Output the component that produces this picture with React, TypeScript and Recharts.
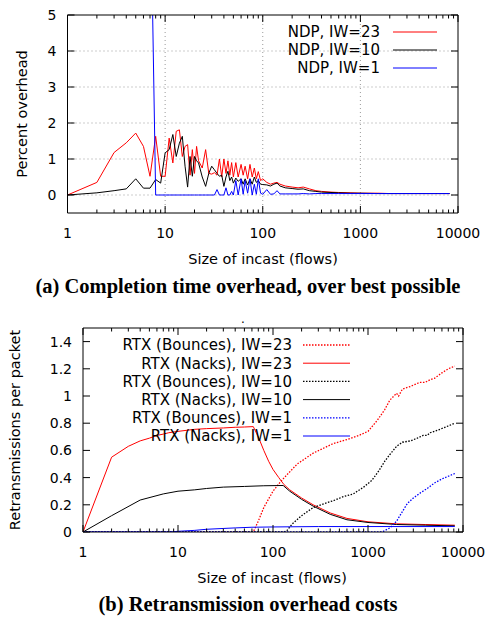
import { LineChart, Line, XAxis, YAxis, ReferenceLine } from 'recharts';

const FONT = '"DejaVu Sans", sans-serif';
const SERIF = '"Liberation Serif", "Times New Roman", serif';

// ---- (a) completion time overhead ----
const incastSizes = [
  1, 2, 3, 4, 5, 6, 7, 8, 9, 10, 11, 12, 13, 14, 15, 16, 17, 18, 19, 20, 21, 22,
  24, 26, 28, 30, 32, 34, 36, 38, 40, 42, 44, 46, 48, 50,
  53, 56, 60, 63, 66, 70, 74, 78, 82, 86, 90, 95, 100,
  110, 120, 130, 140, 150, 170, 200, 230, 260, 300, 350, 400, 500, 600, 800, 1000, 1500, 2000, 3000, 4000, 6000, 8192,
];
const overheadIW23 = [
  0, 0.35, 1.18, 1.45, 1.72, 1.35, 0.52, 1.63, 0.52, 0.52, 1.58, 0.89, 1.77, 1.81, 1.07, 1.35, 1.4, 0.55, 1.26, 0.6, 1.35, 0.95,
  0.75, 1.26, 0.6, 0.58, 0.62, 0.55, 1.0, 0.5, 1.0, 0.6, 0.95, 0.55, 0.9, 0.5,
  0.9, 0.5, 0.85, 0.55, 0.8, 0.45, 0.85, 0.5, 0.75, 0.45, 0.65, 0.4, 0.45,
  0.35, 0.3, 0.33, 0.35, 0.3, 0.25, 0.22, 0.2, 0.22, 0.17, 0.12, 0.1, 0.08, 0.07, 0.06, 0.05, 0.05, 0.04, 0.04, 0.04, 0.04, 0.04,
];
const overheadIW10 = [
  0, 0.06, 0.12, 0.17, 0.45, 0.19, 0.19, 0.43, 0.33, 1.17, 1.26, 1.68, 1.07, 1.44, 1.63, 0.8, 0.22, 1.07, 0.52, 1.07, 0.95, 0.89,
  0.5, 0.24, 0.6, 0.8, 0.7, 0.6, 0.52, 0.55, 0.24, 0.5, 0.66, 0.4, 0.5, 0.33,
  0.47, 0.38, 0.45, 0.3, 0.45, 0.28, 0.45, 0.3, 0.5, 0.35, 0.4, 0.3, 0.29,
  0.28, 0.25, 0.3, 0.33, 0.25, 0.2, 0.18, 0.16, 0.17, 0.12, 0.1, 0.08, 0.07, 0.06, 0.05, 0.05, 0.04, 0.04, 0.04, 0.04, 0.04, 0.04,
];
const overheadIW1 = [
  20, 18, 16, 14, 12, 10.5, 9.4, 0, 0, 0, 0, 0, 0, 0, 0, 0, 0, 0, 0, 0, 0, 0,
  0, 0, 0, 0, 0, 0.15, 0, 0, 0, 0.2, 0, 0, 0.1, 0,
  0.4, 0, 0.45, 0.02, 0.4, 0.05, 0.45, 0, 0.3, 0.02, 0.45, 0.05, 0.02,
  0.15, 0.02, 0.03, 0.12, 0.03, 0.03, 0.03, 0.03, 0.04, 0.03, 0.04, 0.04, 0.04, 0.04, 0.04, 0.04, 0.04, 0.04, 0.04, 0.04, 0.04, 0.04,
];

// ---- (b) retransmissions per packet ----
const bounces23X = [1, 60, 63, 70, 80, 100, 120, 140, 180, 265, 430, 600, 800, 1000, 1250, 1500, 1700, 2000, 2100, 2300, 2500, 2800, 3000, 3500, 4000, 4500, 5000, 6000, 7000, 8192];
const bounces23Y = [0, 0, 0.01, 0.08, 0.18, 0.3, 0.37, 0.42, 0.5, 0.58, 0.65, 0.68, 0.71, 0.74, 0.82, 0.9, 0.97, 1.02, 1.0, 1.05, 1.06, 1.07, 1.08, 1.1, 1.1, 1.12, 1.13, 1.17, 1.2, 1.22];
const nacks23X = [1, 2, 3, 4, 5, 6, 7, 8, 10, 15, 20, 30, 40, 50, 62, 70, 80, 90, 100, 115, 130, 150, 200, 265, 400, 600, 1000, 2000, 4000, 8192];
const nacks23Y = [0, 0.55, 0.63, 0.67, 0.69, 0.71, 0.72, 0.73, 0.74, 0.755, 0.76, 0.765, 0.77, 0.772, 0.775, 0.7, 0.6, 0.52, 0.46, 0.4, 0.35, 0.31, 0.25, 0.2, 0.14, 0.1, 0.075, 0.06, 0.055, 0.05];
const bounces10X = [1, 130, 140, 160, 200, 265, 350, 430, 550, 700, 900, 1100, 1300, 1500, 1700, 2000, 2300, 2800, 3300, 3800, 4200, 4500, 5500, 7000, 8192];
const bounces10Y = [0, 0, 0.01, 0.06, 0.12, 0.18, 0.21, 0.23, 0.26, 0.28, 0.33, 0.38, 0.45, 0.52, 0.57, 0.63, 0.66, 0.67, 0.69, 0.71, 0.71, 0.73, 0.75, 0.78, 0.8];
const nacks10X = [1, 2, 4, 7, 10, 15, 20, 30, 50, 80, 128, 150, 200, 265, 400, 600, 1000, 2000, 4000, 8192];
const nacks10Y = [0, 0.12, 0.235, 0.28, 0.3, 0.31, 0.32, 0.33, 0.335, 0.34, 0.342, 0.3, 0.24, 0.19, 0.13, 0.09, 0.07, 0.055, 0.05, 0.045];
const bounces1X = [1, 1300, 1450, 1700, 2000, 2300, 2600, 3000, 3600, 4200, 5000, 6000, 7000, 8192];
const bounces1Y = [0, 0, 0.005, 0.03, 0.08, 0.15, 0.21, 0.25, 0.29, 0.32, 0.36, 0.39, 0.41, 0.43];
const nacks1X = [1, 8, 10, 15, 20, 30, 40, 60, 100, 300, 1000, 8192];
const nacks1Y = [0, 0, 0.005, 0.012, 0.02, 0.026, 0.03, 0.035, 0.037, 0.04, 0.04, 0.04];

// ---- ticks ----
const xMajorTicks = [1, 10, 100, 1000, 10000];
const xMinorTicks = [1, 10, 100, 1000].flatMap((d) => [2, 3, 4, 5, 6, 7, 8, 9].map((m) => m * d));
const xTicks = [...xMajorTicks, ...xMinorTicks].sort((a, b) => a - b);
const overheadTicks = [0, 1, 2, 3, 4, 5];
const rtxTicks = [0, 0.2, 0.4, 0.6, 0.8, 1, 1.2, 1.4];

const topData = incastSizes.map((x, i) => ({ x, iw23: overheadIW23[i], iw10: overheadIW10[i], iw1: overheadIW1[i] }));
const toPoints = (xs: number[], ys: number[]) => xs.map((x, i) => ({ x, y: ys[i] }));

const rtxSeries = [
  { name: 'RTX (Bounces), IW=23', color: '#ff0000', dotted: true, data: toPoints(bounces23X, bounces23Y) },
  { name: 'RTX (Nacks), IW=23', color: '#ff0000', dotted: false, data: toPoints(nacks23X, nacks23Y) },
  { name: 'RTX (Bounces), IW=10', color: '#000000', dotted: true, data: toPoints(bounces10X, bounces10Y) },
  { name: 'RTX (Nacks), IW=10', color: '#000000', dotted: false, data: toPoints(nacks10X, nacks10Y) },
  { name: 'RTX (Bounces), IW=1', color: '#0000ff', dotted: true, data: toPoints(bounces1X, bounces1Y) },
  { name: 'RTX (Nacks), IW=1', color: '#0000ff', dotted: false, data: toPoints(nacks1X, nacks1Y) },
];
const ndpSeries = [
  { name: 'NDP, IW=23', key: 'iw23', color: '#ff0000' },
  { name: 'NDP, IW=10', key: 'iw10', color: '#000000' },
  { name: 'NDP, IW=1', key: 'iw1', color: '#0000ff' },
];

type Side = 'bottom' | 'top' | 'left' | 'right';

// gnuplot-style inward ticks, with labels only on bottom/left
const makeTick = (side: Side, label: boolean) => (props: any) => {
  const { x, y, payload } = props;
  const v = payload.value as number;
  const major = side === 'left' || side === 'right' || xMajorTicks.includes(v);
  const len = major ? 7 : 3.5;
  let l = { x1: x, y1: y, x2: x, y2: y - len };
  if (side === 'top') l = { x1: x, y1: y, x2: x, y2: y + len };
  if (side === 'left') l = { x1: x, y1: y, x2: x + len, y2: y };
  if (side === 'right') l = { x1: x, y1: y, x2: x - len, y2: y };
  return (
    <g>
      <line {...l} stroke="#000" strokeWidth={1} />
      {label && side === 'bottom' && major && (
        <text x={x} y={y + 19.5} dy="0.36em" textAnchor="middle" fontSize={14} fontFamily={FONT} fill="#000">{v}</text>
      )}
      {label && side === 'left' && (
        <text x={x - 11} y={y} dy="0.36em" textAnchor="end" fontSize={14} fontFamily={FONT} fill="#000">{v}</text>
      )}
    </g>
  );
};

const axisCommon = { tickLine: false, tickSize: 0, tickMargin: 0, interval: 0 as const, axisLine: { stroke: '#000', strokeWidth: 1 } };

function Frame(yDomain: number[], yTicks: number[]) {
  return [
    <XAxis key="xb" dataKey="x" type="number" scale="log" domain={[1, 10000]} allowDataOverflow ticks={xTicks} height={1} tick={makeTick('bottom', true)} {...axisCommon} />,
    <XAxis key="xt" xAxisId="top" orientation="top" dataKey="x" type="number" scale="log" domain={[1, 10000]} allowDataOverflow ticks={xTicks} height={1} tick={makeTick('top', false)} {...axisCommon} />,
    <YAxis key="yl" type="number" domain={yDomain} allowDataOverflow ticks={yTicks} width={1} tick={makeTick('left', true)} {...axisCommon} />,
    <YAxis key="yr" yAxisId="right" orientation="right" type="number" domain={yDomain} allowDataOverflow ticks={yTicks} width={1} tick={makeTick('right', false)} {...axisCommon} />,
  ];
}

export default function App() {
  return (
    <div style={{ position: 'absolute', left: 0, top: 0, width: 492, height: 617, background: '#fff', fontFamily: FONT }}>
      <div style={{ position: 'absolute', left: 0, top: 0 }}>
        <LineChart width={492} height={240} data={topData} margin={{ top: 14, right: 33, bottom: 26, left: 66.5 }}>
          {[10, 100, 1000].map((v) => (
            <ReferenceLine key={'gx' + v} x={v} stroke="#9a9a9a" strokeDasharray="1 3" />
          ))}
          {[0, 1, 2, 3, 4].map((v) => (
            <ReferenceLine key={'gy' + v} y={v} stroke="#9a9a9a" strokeDasharray="1 3" />
          ))}
          {Frame([-0.5, 5], overheadTicks)}
          {ndpSeries.map((s) => (
            <Line key={s.key} dataKey={s.key} stroke={s.color} strokeWidth={1} dot={false} isAnimationActive={false} />
          ))}
        </LineChart>
      </div>
      <div style={{ position: 'absolute', left: 0, top: 300 }}>
        <LineChart width={492} height={260} margin={{ top: 27, right: 28, bottom: 27, left: 82 }}>
          {Frame([0, 1.5], rtxTicks)}
          {rtxSeries.map((s) => (
            <Line
              key={s.name}
              data={s.data}
              dataKey="y"
              stroke={s.color}
              strokeWidth={s.dotted ? 1.3 : 1}
              strokeDasharray={s.dotted ? '1.5 1.5' : undefined}
              dot={false}
              isAnimationActive={false}
            />
          ))}
        </LineChart>
      </div>
      <svg width={492} height={617} style={{ position: 'absolute', left: 0, top: 0, pointerEvents: 'none' }}>
        {/* legend (a) */}
        {ndpSeries.map((s, i) => (
          <g key={s.key}>
            <text x={380} y={32 + i * 18} dy="0.36em" textAnchor="end" fontSize={15} fontFamily={FONT} fill="#000">{s.name}</text>
            <line x1={393} x2={437} y1={32 + i * 18} y2={32 + i * 18} stroke={s.color} strokeWidth={1} />
          </g>
        ))}
        {/* legend (b) */}
        {rtxSeries.map((s, i) => (
          <g key={s.name}>
            <text x={292} y={345 + i * 18.2} dy="0.36em" textAnchor="end" fontSize={15} fontFamily={FONT} fill="#000">{s.name}</text>
            <line x1={303} x2={350} y1={345 + i * 18.2} y2={345 + i * 18.2} stroke={s.color} strokeWidth={s.dotted ? 1.3 : 1} strokeDasharray={s.dotted ? '1.5 1.5' : undefined} />
          </g>
        ))}
        <text transform="translate(22,114) rotate(-90)" dy="0.36em" textAnchor="middle" fontSize={14.5} fontFamily={FONT} fill="#000">Percent overhead</text>
        <text x={263} y={259} dy="0.36em" textAnchor="middle" fontSize={14.5} fontFamily={FONT} fill="#000">Size of incast (flows)</text>
        <text x={248} y={286} dy="0.35em" textAnchor="middle" fontSize={20.5} fontWeight="bold" fontFamily={SERIF} fill="#000">(a) Completion time overhead, over best possible</text>
        <text x={243} y={323} textAnchor="middle" fontSize={12} fontFamily={FONT} fill="#000">.</text>
        <text transform="translate(15,430) rotate(-90)" dy="0.36em" textAnchor="middle" fontSize={14.5} fontFamily={FONT} fill="#000">Retransmissions per packet</text>
        <text x={272} y={578} dy="0.36em" textAnchor="middle" fontSize={14.5} fontFamily={FONT} fill="#000">Size of incast (flows)</text>
        <text x={248} y={604} dy="0.35em" textAnchor="middle" fontSize={20.5} fontWeight="bold" fontFamily={SERIF} fill="#000">(b) Retransmission overhead costs</text>
      </svg>
    </div>
  );
}
